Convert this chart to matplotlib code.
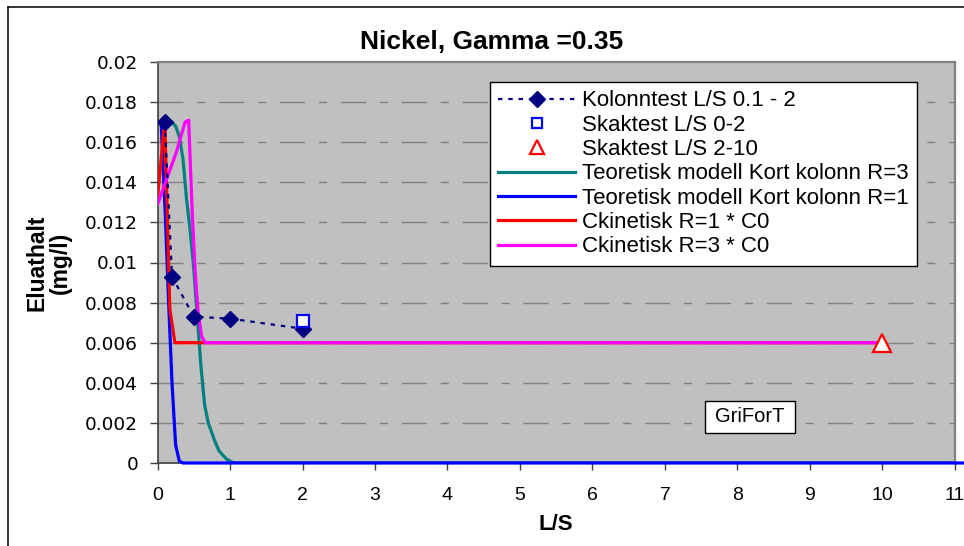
import matplotlib
matplotlib.use("Agg")
import matplotlib.pyplot as plt
from matplotlib import font_manager
from matplotlib.lines import Line2D
from matplotlib.patches import Rectangle

# ---- data -------------------------------------------------------------
kolonn_ls = [0.1, 0.2, 0.5, 1.0, 2.0]
kolonn_c = [0.0170, 0.0093, 0.0073, 0.0072, 0.0067]

skakt02_ls = [2.0]
skakt02_c = [0.0071]

skakt210_ls = [10.0]
skakt210_c = [0.0060]

teo_r3_ls = [0.1, 0.2, 0.25, 0.3, 0.35, 0.4, 0.45, 0.5, 0.55, 0.6, 0.65,
             0.7, 0.75, 0.8, 0.85, 0.9, 0.95, 1.0, 1.05, 12.0]
teo_r3_c = [0.0170, 0.0170, 0.0168, 0.0163, 0.0152, 0.0132, 0.0116, 0.0097,
            0.0072, 0.0048, 0.0029, 0.0020, 0.0015, 0.0010, 0.0006, 0.0004,
            0.0002, 0.0001, 0.0, 0.0]

teo_r1_ls = [0.05, 0.11, 0.15, 0.2, 0.25, 0.3, 0.35, 12.0]
teo_r1_c = [0.0170, 0.0122, 0.0083, 0.0040, 0.0009, 0.0001, 0.0, 0.0]

ckin_r1_ls = [0.0, 0.1, 0.17, 0.24, 10.0]
ckin_r1_c = [0.0132, 0.0171, 0.0077, 0.0060, 0.0060]

ckin_r3_ls = [0.0, 0.26, 0.38, 0.43, 0.48, 0.52, 0.56, 0.61, 0.66, 10.0]
ckin_r3_c = [0.0129, 0.0155, 0.0170, 0.0171, 0.0124, 0.0095, 0.0075,
             0.0063, 0.0060, 0.0060]

x_ticks = list(range(0, 12))
y_ticks = [0, 0.002, 0.004, 0.006, 0.008, 0.01, 0.012, 0.014, 0.016, 0.018, 0.02]
y_tick_labels = ["0", "0.002", "0.004", "0.006", "0.008", "0.01", "0.012",
                 "0.014", "0.016", "0.018", "0.02"]


def pick_font(names):
    for n in names:
        try:
            font_manager.findfont(n, fallback_to_default=False)
            return n
        except Exception:
            continue
    return "DejaVu Sans"


SANS = pick_font(["Liberation Sans", "Arial", "DejaVu Sans"])
NARROW = pick_font(["Liberation Sans Narrow", "Liberation Sans", "DejaVu Sans"])
WIDE = "DejaVu Sans"

plt.rcParams["font.family"] = SANS
plt.rcParams["lines.scale_dashes"] = False

W, H = 964, 546
fig = plt.figure(figsize=(W / 100, H / 100), dpi=100)
fig.patch.set_facecolor("white")

# plot area in pixel terms
x0, x1 = 157.5, 955.0
y_top, y_bot = 62.0, 463.0
ax = fig.add_axes([x0 / W, 1 - y_bot / H, (x1 - x0) / W, (y_bot - y_top) / H])
ax.set_facecolor("#C0C0C0")
ax.set_xlim(0, 11)
ax.set_ylim(0, 0.02)

# grid
for yv in y_ticks[1:-1]:
    ax.axhline(yv, color="#808080", lw=1.0, ls=(0, (18, 10, 5.8, 10)), zorder=1)

# series
ax.plot(kolonn_ls, kolonn_c, color="#000080", lw=1.6, ls=(0, (3.2, 4.2)),
        marker="D", ms=8.5, mfc="#000080", mec="#000080", zorder=6,
        label="Kolonntest L/S 0.1 - 2")
ax.plot(skakt02_ls, skakt02_c, ls="none", marker="s", ms=9, mfc="white",
        mec="#0000FF", mew=1.6, zorder=7, label="Skaktest L/S 0-2")
ax.plot(skakt210_ls, skakt210_c, ls="none", marker="^", ms=13, mfc="white",
        mec="#FF0000", mew=1.6, zorder=7, label="Skaktest L/S 2-10")
ax.plot(teo_r3_ls, teo_r3_c, color="#008080", lw=2.3, zorder=3,
        label="Teoretisk modell Kort kolonn R=3")
ax.plot(teo_r1_ls, teo_r1_c, color="#0000FF", lw=2.3, zorder=4, clip_on=False,
        label="Teoretisk modell Kort kolonn R=1")
ax.plot(ckin_r1_ls, ckin_r1_c, color="#FF0000", lw=2.3, zorder=4.5,
        label="Ckinetisk R=1 * C0")
ax.plot(ckin_r3_ls, ckin_r3_c, color="#FF00FF", lw=2.3, zorder=5,
        label="Ckinetisk R=3 * C0")

# axes styling
for side in ("top", "right"):
    ax.spines[side].set_color("#808080")
    ax.spines[side].set_linewidth(1.6)
for side in ("left", "bottom"):
    ax.spines[side].set_color("#404040")
    ax.spines[side].set_linewidth(1.2)

ax.set_xticks(x_ticks)
ax.set_xticklabels([str(v) for v in x_ticks], fontfamily=NARROW, fontsize=14)
ax.set_yticks(y_ticks)
ax.set_yticklabels(y_tick_labels, fontfamily=WIDE, fontsize=13.3)
ax.tick_params(axis="y", direction="out", length=6, width=1, color="#404040", pad=8)
ax.tick_params(axis="x", direction="out", length=5, width=1, color="#404040", pad=12)

ax.set_xlabel("L/S", fontfamily=NARROW, fontsize=16, fontweight="bold", va="center")
ax.xaxis.set_label_coords((556 - x0) / (x1 - x0), (y_bot - 524) / (y_bot - y_top))
ax.set_ylabel("Eluathalt\n(mg/l)", fontsize=16.5, fontweight="bold",
              va="center", ha="center", linespacing=1.05)
ax.yaxis.set_label_coords((48.5 - x0) / (x1 - x0), 0.5)

fig.text(492 / W, 1 - 42 / H, "Nickel, Gamma =0.35", fontsize=19,
         fontweight="bold", ha="center", va="center")

# legend
leg = ax.legend(loc="upper left", bbox_to_anchor=(490 / W, 1 - 82 / H),
                bbox_transform=fig.transFigure, borderaxespad=0,
                fontsize=16, frameon=True, fancybox=False, framealpha=1,
                edgecolor="black", handlelength=3.45, handletextpad=0.3,
                labelspacing=0.15, borderpad=0.38, numpoints=1)
leg.get_frame().set_linewidth(1.0)
leg.set_zorder(10)
leg_handles = leg.legend_handles
leg_handles[1].set_markersize(7.5)
leg_handles[2].set_markersize(10)

# GriForT box
gx0, gx1, gy0, gy1 = 704.5, 795.0, 400.5, 432.5
fig.patches.append(Rectangle((gx0 / W, 1 - gy1 / H), (gx1 - gx0) / W, (gy1 - gy0) / H,
                             transform=fig.transFigure, facecolor="white",
                             edgecolor="black", lw=1.0, zorder=10))
fig.text((gx0 + gx1) / 2 / W, 1 - (gy0 + gy1) / 2 / H, "GriForT", fontsize=14.5,
         ha="center", va="center", zorder=11)

# outer chart frame
fig.add_artist(Line2D([7.5 / W, 7.5 / W], [0, 1 - 6.5 / H], color="black", lw=1.1,
                      transform=fig.transFigure))
fig.add_artist(Line2D([7.5 / W, 1], [1 - 6.5 / H, 1 - 6.5 / H], color="black", lw=1.1,
                      transform=fig.transFigure))

fig.savefig("out.png", dpi=100)
